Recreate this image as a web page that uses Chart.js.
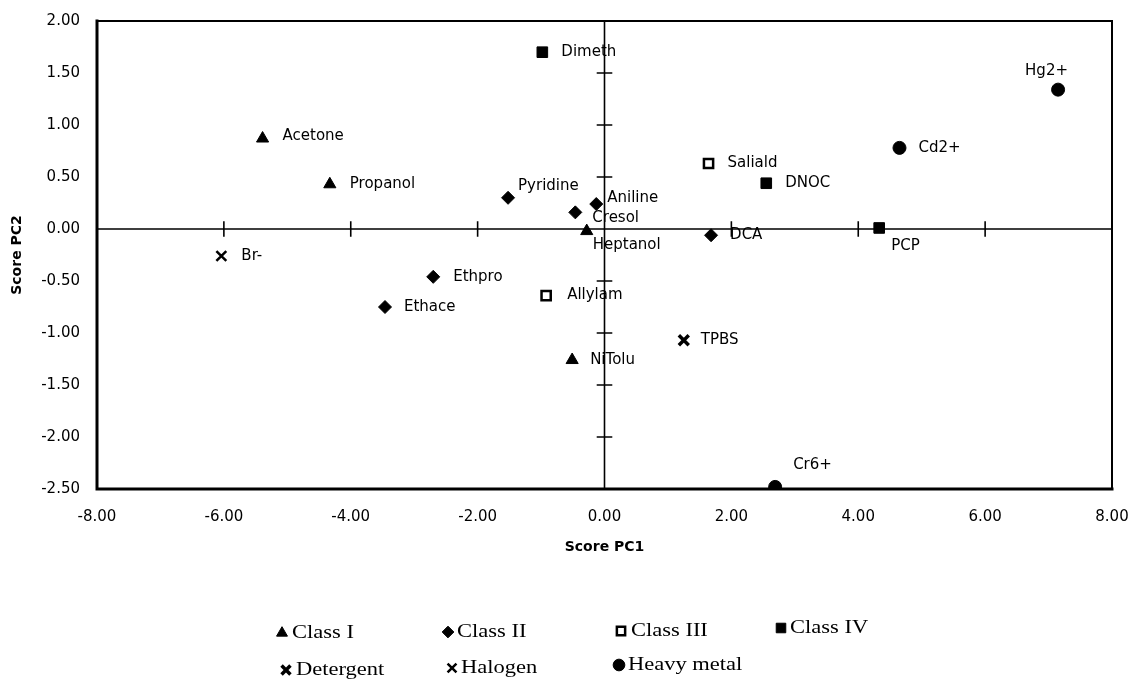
<!DOCTYPE html>
<html>
<head>
<meta charset="utf-8">
<script src="https://cdn.jsdelivr.net/npm/chart.js@4/dist/chart.umd.min.js"></script>
<style>
html,body{margin:0;padding:0;background:#fff}
#wrap{width:1138px;height:684px;position:relative}
</style>
</head>
<body>
<div id="wrap"><canvas id="myChart"></canvas></div>
<script>
// PCA scores, one group of arrays per class
var classNames = ["Class I", "Class II", "Class III", "Class IV", "Detergent", "Halogen", "Heavy metal"];

var class1Names = ["Acetone", "Propanol", "Heptanol", "NiTolu"];
var class1PC1 = [-5.39, -4.33, -0.28, -0.51];
var class1PC2 = [0.87, 0.43, -0.02, -1.26];

var class2Names = ["Pyridine", "Cresol", "Aniline", "Ethpro", "Ethace", "DCA"];
var class2PC1 = [-1.52, -0.46, -0.13, -2.70, -3.46, 1.68];
var class2PC2 = [0.30, 0.16, 0.24, -0.46, -0.75, -0.06];

var class3Names = ["Saliald", "Allylam"];
var class3PC1 = [1.64, -0.92];
var class3PC2 = [0.63, -0.64];

var class4Names = ["Dimeth", "DNOC", "PCP"];
var class4PC1 = [-0.98, 2.55, 4.33];
var class4PC2 = [1.70, 0.44, 0.01];

var detergentNames = ["TPBS"];
var detergentPC1 = [1.25];
var detergentPC2 = [-1.07];

var halogenNames = ["Br-"];
var halogenPC1 = [-6.04];
var halogenPC2 = [-0.26];

var metalNames = ["Cd2+", "Hg2+", "Cr6+"];
var metalPC1 = [4.65, 7.15, 2.69];
var metalPC2 = [0.78, 1.34, -2.48];

var xTicks = [-8, -6, -4, -2, 0, 2, 4, 6, 8];
var yTicks = [-2.5, -2, -1.5, -1, -0.5, 0, 0.5, 1, 1.5, 2];

// label placement next to each marker (px)
var labelOffset = {
  "Acetone": [20, -2], "Propanol": [20, 0], "Heptanol": [6, 14], "NiTolu": [18, 0],
  "Pyridine": [10, -12], "Cresol": [17, 6], "Aniline": [11, -6], "Ethpro": [20, 0],
  "Ethace": [19, 0], "DCA": [19, 0], "Saliald": [19, 0], "Allylam": [21, 0],
  "Dimeth": [19, 0], "DNOC": [19, 0], "PCP": [12, 18], "TPBS": [17, 0],
  "Br-": [20, 0], "Cd2+": [19, 0], "Hg2+": [-33, -19], "Cr6+": [18, -22]
};

function pts(a, b) {
  var out = [];
  for (var i = 0; i < a.length; i++) out.push({x: a[i], y: b[i]});
  return out;
}

var groups = [
  {names: class1Names, data: pts(class1PC1, class1PC2), style: "triangle", r: 7, bg: "#000", bw: 1},
  {names: class2Names, data: pts(class2PC1, class2PC2), style: "rectRot", r: 6.5, bg: "#000", bw: 1},
  {names: class3Names, data: pts(class3PC1, class3PC2), style: "rect", r: 6.5, bg: "#fff", bw: 2.5},
  {names: class4Names, data: pts(class4PC1, class4PC2), style: "rect", r: 7.5, bg: "#000", bw: 1},
  {names: detergentNames, data: pts(detergentPC1, detergentPC2), style: "crossRot", r: 7, bg: "#000", bw: 3.5},
  {names: halogenNames, data: pts(halogenPC1, halogenPC2), style: "crossRot", r: 7, bg: "#000", bw: 2.5},
  {names: metalNames, data: pts(metalPC1, metalPC2), style: "circle", r: 6.5, bg: "#000", bw: 1}
];

var datasets = groups.map(function (g, i) {
  return {
    label: classNames[i],
    data: g.data,
    names: g.names,
    pointStyle: g.style,
    pointRadius: g.r,
    pointHoverRadius: g.r,
    pointBackgroundColor: g.bg,
    pointBorderColor: "#000",
    pointBorderWidth: g.bw
  };
});

// frame plus the two axes crossing at the origin
var frame = {
  id: "frame",
  beforeDatasetsDraw: function (chart) {
    var ctx = chart.ctx, a = chart.chartArea;
    var xs = chart.scales.x, ys = chart.scales.y;
    ctx.save();
    ctx.strokeStyle = "#000";
    ctx.lineCap = "square";
    ctx.lineWidth = 2;
    ctx.beginPath();
    ctx.moveTo(a.left, a.top); ctx.lineTo(a.right, a.top); ctx.lineTo(a.right, a.bottom);
    ctx.stroke();
    ctx.lineWidth = 3;
    ctx.beginPath();
    ctx.moveTo(a.left, a.top); ctx.lineTo(a.left, a.bottom); ctx.lineTo(a.right, a.bottom);
    ctx.stroke();

    var x0 = xs.getPixelForValue(0), y0 = ys.getPixelForValue(0);
    ctx.lineWidth = 1.6;
    ctx.beginPath();
    ctx.moveTo(a.left, y0); ctx.lineTo(a.right, y0);
    ctx.moveTo(x0, a.top); ctx.lineTo(x0, a.bottom);
    xTicks.forEach(function (v) {
      if (v === 0 || v === xTicks[0] || v === xTicks[xTicks.length - 1]) return;
      var px = xs.getPixelForValue(v);
      ctx.moveTo(px, y0 - 7); ctx.lineTo(px, y0 + 7);
    });
    yTicks.forEach(function (v) {
      if (v === 0 || v === yTicks[0] || v === yTicks[yTicks.length - 1]) return;
      var py = ys.getPixelForValue(v);
      ctx.moveTo(x0 - 7, py); ctx.lineTo(x0 + 7, py);
    });
    ctx.stroke();
    ctx.restore();
  }
};

// compound names beside the markers
var pointLabels = {
  id: "pointLabels",
  afterDatasetsDraw: function (chart) {
    var ctx = chart.ctx;
    ctx.save();
    ctx.fillStyle = "#000";
    ctx.font = '15px "DejaVu Sans"';
    ctx.textAlign = "left";
    ctx.textBaseline = "middle";
    chart.data.datasets.forEach(function (ds, i) {
      var meta = chart.getDatasetMeta(i);
      meta.data.forEach(function (el, j) {
        var n = ds.names[j];
        var off = labelOffset[n] || [18, 0];
        ctx.fillText(n, el.x + off[0], el.y + off[1]);
      });
    });
    ctx.restore();
  }
};

// legend laid out in two rows under the plot
var legendSpots = [
  [282, 633, 292], [448, 632, 457], [621, 631, 631], [781, 628, 790],
  [286, 670, 296], [452, 668, 461], [619, 665, 628]
];
var blockLegend = {
  id: "blockLegend",
  afterDraw: function (chart) {
    var ctx = chart.ctx;
    ctx.save();
    groups.forEach(function (g, i) {
      var s = legendSpots[i];
      ctx.fillStyle = g.bg;
      ctx.strokeStyle = "#000";
      ctx.lineWidth = g.bw;
      Chart.helpers.drawPoint(ctx, {pointStyle: g.style, radius: g.r * 0.9, rotation: 0, borderWidth: g.bw}, s[0], s[1]);
      ctx.fillStyle = "#000";
      ctx.font = '18px "Liberation Serif"';
      ctx.textBaseline = "middle";
      ctx.textAlign = "left";
      ctx.save();
      ctx.translate(s[2], s[1]);
      ctx.scale(1.25, 1);
      ctx.fillText(classNames[i], 0, 0);
      ctx.restore();
    });
    ctx.restore();
  }
};

var tickFont = {family: "DejaVu Sans", size: 15};
var titleFont = {family: "DejaVu Sans", size: 14, weight: "bold"};

new Chart(document.getElementById("myChart"), {
  type: "scatter",
  data: {datasets: datasets},
  options: {
    responsive: true,
    maintainAspectRatio: false,
    animation: false,
    layout: {padding: {left: 5, top: 21, right: 26, bottom: 124.6}},
    plugins: {legend: {display: false}, tooltip: {enabled: false}},
    scales: {
      x: {
        type: "linear",
        min: xTicks[0],
        max: xTicks[xTicks.length - 1],
        afterBuildTicks: function (s) { s.ticks = xTicks.map(function (v) { return {value: v}; }); },
        ticks: {color: "#000", font: tickFont, padding: 19, maxRotation: 0,
          callback: function (v) { return Number(v).toFixed(2); }},
        grid: {display: false, drawTicks: false},
        border: {display: false},
        title: {display: true, text: "Score PC1", color: "#000", font: titleFont, padding: {top: 4, bottom: 4}},
        afterFit: function (s) { s.height = 70.4; s.paddingLeft = 0; s.paddingRight = 0; }
      },
      y: {
        type: "linear",
        min: yTicks[0],
        max: yTicks[yTicks.length - 1],
        afterBuildTicks: function (s) { s.ticks = yTicks.map(function (v) { return {value: v}; }); },
        ticks: {color: "#000", font: tickFont, padding: 17,
          callback: function (v) { return Number(v).toFixed(2); }},
        grid: {display: false, drawTicks: false},
        border: {display: false},
        title: {display: true, text: "Score PC2", color: "#000", font: titleFont, padding: {top: 4, bottom: 4}},
        afterFit: function (s) { s.width = 92; s.paddingTop = 0; s.paddingBottom = 0; }
      }
    }
  },
  plugins: [frame, pointLabels, blockLegend]
});
</script>
</body>
</html>
